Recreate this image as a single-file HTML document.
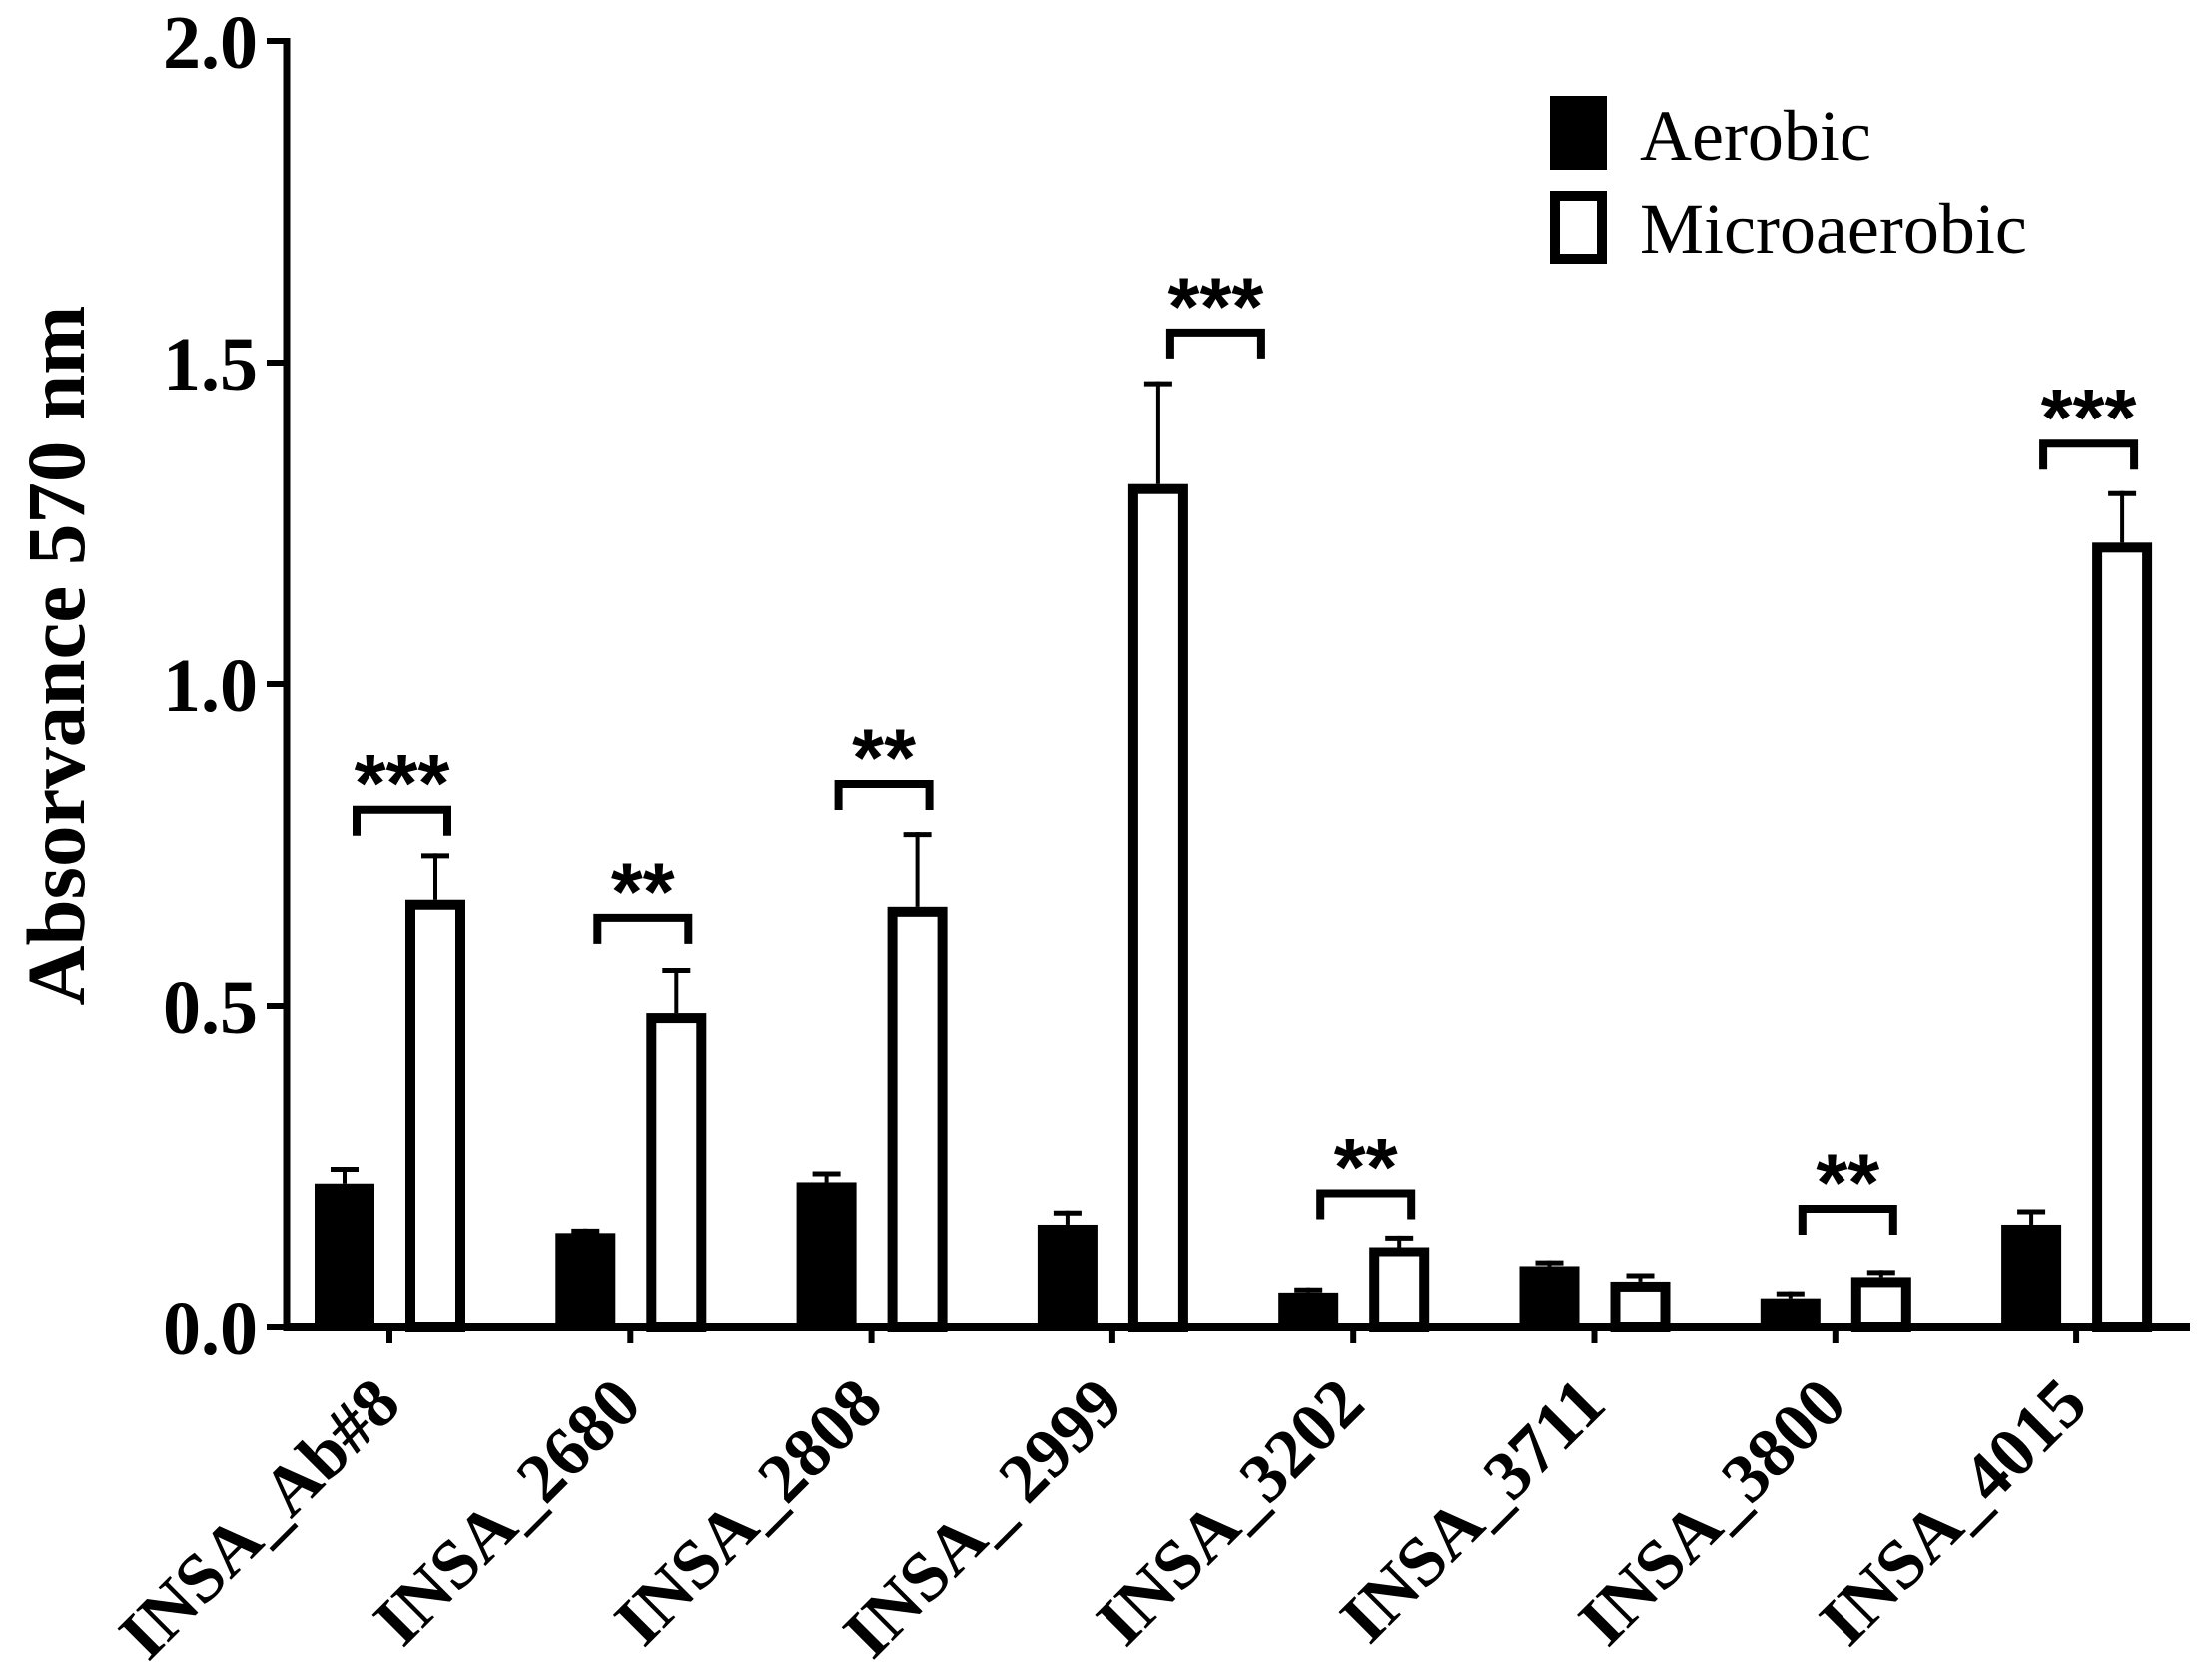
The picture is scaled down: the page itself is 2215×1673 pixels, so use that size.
<!DOCTYPE html>
<html><head><meta charset="utf-8"><style>
html,body{margin:0;padding:0;background:#fff;}
svg{display:block;}
</style></head><body>
<svg id="chart" width="2215" height="1673" viewBox="0 0 2215 1673" xmlns="http://www.w3.org/2000/svg">
<g id="plot"></g>
<text transform="translate(84,656) rotate(-90)" text-anchor="middle" font-family="Liberation Serif, serif" font-weight="bold" font-size="83">Absorvance 570 nm</text>
<g>
<rect x="1552" y="96" width="57" height="74" fill="#000"/>
<text x="1642" y="160" font-family="Liberation Serif, serif" font-size="72">Aerobic</text>
<rect x="1557" y="196" width="47" height="63" fill="#fff" stroke="#000" stroke-width="10"/>
<text x="1642" y="253" font-family="Liberation Serif, serif" font-size="72">Microaerobic</text>
</g>
</svg>
<script>
const categories = ["INSA_Ab#8","INSA_2680","INSA_2808","INSA_ 2999","INSA_3202","INSA_3711","INSA_3800","INSA_4015"];
const aerobic = [0.224,0.147,0.226,0.160,0.053,0.094,0.044,0.160];
const aerobicErr = [0.026,0.007,0.017,0.022,0.008,0.009,0.011,0.024];
const micro = [0.665,0.489,0.654,1.311,0.125,0.070,0.077,1.220];
const microErr = [0.072,0.070,0.116,0.160,0.018,0.013,0.011,0.080];
const sigLevels = ["***","**","**","***","**","","**","***"];
const sigHeights = [0.811,0.643,0.851,1.553,0.215,0,0.191,1.380];
const yTicks = [0,0.5,1.0,1.5,2.0];
const yTickLabels = ["0.0","0.5","1.0","1.5","2.0"];

const NS="http://www.w3.org/2000/svg";
const g=document.getElementById('plot');
const X0=287, XEND=2193, Y0=1329, PX_PER_UNIT=644;
function yScale(v){return Y0 - v*PX_PER_UNIT;}
function xCenter(i){return 390 + i*241.3;}
function el(tag,attrs){const e=document.createElementNS(NS,tag);for(const k in attrs)e.setAttribute(k,attrs[k]);g.appendChild(e);return e;}

categories.forEach((c,i)=>{
  const cx=xCenter(i);
  const ya=yScale(aerobic[i]), yae=yScale(aerobic[i]+aerobicErr[i]);
  let e=el('line',{x1:cx-45,x2:cx-45,y1:ya,y2:yae,stroke:'#000','stroke-width':4});
  
  
  e=el('line',{x1:cx-59,x2:cx-31,y1:yae+2.5,y2:yae+2.5,stroke:'#000','stroke-width':5});
  
  
  e=el('rect',{x:cx-75,y:ya,width:60,height:Y0-ya,fill:'#000'});
  
  
  const ym=yScale(micro[i]), yme=yScale(micro[i]+microErr[i]);
  e=el('line',{x1:cx+46,x2:cx+46,y1:ym,y2:yme,stroke:'#000','stroke-width':4});
  
  
  e=el('line',{x1:cx+32,x2:cx+60,y1:yme+2.5,y2:yme+2.5,stroke:'#000','stroke-width':5});
  
  
  e=el('rect',{x:cx+21,y:ym+5,width:50,height:Math.max(0,Y0-ym-5),fill:'#fff',stroke:'#000','stroke-width':10});
  
  
  if(sigLevels[i]){
    const off = (i===3)?91:0;
    const bl=cx-37+off, br=cx+62+off, by=yScale(sigHeights[i]);
    e=el('path',{d:`M${bl+4},${by+30} V${by+4} H${br-4} V${by+30}`,fill:'none',stroke:'#000','stroke-width':8});
    
    
    e=el('text',{x:(bl+br)/2,y:by+6,'text-anchor':'middle','font-family':'Liberation Sans, sans-serif','font-weight':'bold','font-size':82});
    e.textContent=sigLevels[i];
    
    
  }
  e=el('line',{x1:cx,x2:cx,y1:Y0,y2:Y0+16,stroke:'#000','stroke-width':6});
  
  
  e=el('text',{transform:`translate(${cx+14},${Y0+80}) rotate(-45)`,'text-anchor':'end','font-family':'Liberation Serif, serif','font-weight':'bold','font-size':70});
  e.textContent=c;
  
  
});

let ax=el('line',{x1:X0,x2:XEND,y1:Y0,y2:Y0,stroke:'#000','stroke-width':8});


ax=el('line',{x1:X0,x2:X0,y1:yScale(2.0)-3,y2:Y0+4,stroke:'#000','stroke-width':7});


yTicks.forEach((v,i)=>{
  const y=yScale(v);
  let t=el('line',{x1:X0-20,x2:X0,y1:y,y2:y,stroke:'#000','stroke-width':6});
  
  
  t=el('text',{x:258,y:y+27,'text-anchor':'end','font-family':'Liberation Serif, serif','font-weight':'bold','font-size':76});
  t.textContent=yTickLabels[i];
  
  
});
</script>
</body></html>
